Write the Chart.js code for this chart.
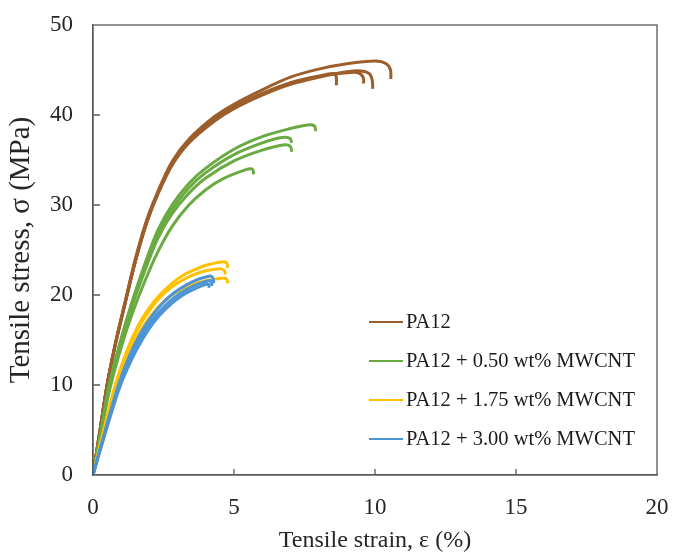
<!DOCTYPE html>
<html>
<head>
<meta charset="utf-8">
<script src="https://cdn.jsdelivr.net/npm/chart.js@4.4.1/dist/chart.umd.min.js"></script>
<style>
  html, body { margin: 0; padding: 0; background: #fff; }
  #wrap { width: 673px; height: 553px; }
</style>
</head>
<body>
<div id="wrap"><canvas id="stressStrain"></canvas></div>
<script>
"use strict";
// ========== DATA ========== //
const legendLabels = ["PA12", "PA12 + 0.50 wt% MWCNT", "PA12 + 1.75 wt% MWCNT", "PA12 + 3.00 wt% MWCNT"];
const xTicks = [0, 5, 10, 15, 20];
const yTicks = [0, 10, 20, 30, 40, 50];

// PA12 specimens
const pa12Strain1 = [0, 0.25, 0.5, 0.8, 1.15, 1.5, 1.9, 2.3, 2.8, 3.4, 4.3, 5.0, 6.0, 7.0, 8.0, 9.0, 10.0, 10.4, 10.55, 10.56];
const pa12Stress1 = [0, 5, 10, 14.7, 19.4, 24, 28.3, 31.5, 34.8, 37.3, 39.8, 41.2, 42.8, 44.2, 45.1, 45.7, 46.0, 45.7, 45.0, 44.0];
const pa12Strain2 = [0, 0.25, 0.5, 0.8, 1.15, 1.5, 1.9, 2.3, 2.8, 3.4, 4.3, 5.0, 6.0, 7.0, 8.0, 9.0, 9.5, 9.8, 9.9, 9.92];
const pa12Stress2 = [0, 5, 10, 14.6, 19.2, 23.7, 28.0, 31.2, 34.4, 36.9, 39.3, 40.7, 42.2, 43.4, 44.2, 44.8, 44.9, 44.6, 43.9, 42.9];
const pa12Strain3 = [0, 0.25, 0.5, 0.8, 1.15, 1.5, 1.9, 2.3, 2.8, 3.4, 4.3, 5.0, 6.0, 7.0, 8.0, 9.0, 9.4, 9.58, 9.6];
const pa12Stress3 = [0, 5, 10, 14.7, 19.3, 23.8, 28.1, 31.4, 34.6, 37.1, 39.5, 40.9, 42.4, 43.6, 44.3, 44.7, 44.7, 44.2, 43.5];
const pa12Strain4 = [0, 0.25, 0.5, 0.8, 1.15, 1.5, 1.9, 2.3, 2.8, 3.4, 4.3, 5.0, 6.0, 7.0, 8.0, 8.5, 8.62, 8.63];
const pa12Stress4 = [0, 5, 10, 14.6, 19.2, 23.7, 28.0, 31.3, 34.5, 37.0, 39.4, 40.8, 42.3, 43.5, 44.3, 44.6, 44.3, 43.3];

// PA12 + 0.50 wt% MWCNT specimens
const cnt050Strain1 = [0, 0.3, 0.57, 1.0, 1.4, 1.9, 2.3, 2.8, 3.4, 4.0, 5.0, 6.0, 7.0, 7.6, 7.85, 7.9];
const cnt050Stress1 = [0, 5.2, 9.9, 15.2, 19.4, 24.0, 27.2, 30.0, 32.4, 34.1, 36.2, 37.6, 38.5, 38.9, 38.8, 38.2];
const cnt050Strain2 = [0, 0.3, 0.57, 1.0, 1.4, 1.9, 2.3, 2.8, 3.4, 4.0, 5.0, 6.0, 6.7, 6.98, 7.05];
const cnt050Stress2 = [0, 5.2, 9.9, 15.0, 19.2, 23.6, 26.8, 29.5, 31.9, 33.6, 35.6, 36.9, 37.5, 37.4, 36.9];
const cnt050Strain3 = [0, 0.3, 0.57, 1.0, 1.4, 1.9, 2.3, 2.8, 3.4, 4.0, 5.0, 6.0, 6.8, 7.0, 7.05];
const cnt050Stress3 = [0, 5.1, 9.8, 14.8, 18.9, 23.2, 26.3, 29.0, 31.3, 33.0, 34.9, 36.1, 36.7, 36.5, 35.9];
const cnt050Strain4 = [0, 0.3, 0.6, 1.0, 1.4, 1.9, 2.3, 2.8, 3.4, 4.0, 4.6, 5.4, 5.65, 5.7];
const cnt050Stress4 = [0, 5, 9.6, 14.2, 18.0, 22.0, 24.8, 27.6, 30.0, 31.7, 32.9, 33.9, 34.0, 33.4];

// PA12 + 1.75 wt% MWCNT specimens
const cnt175Strain1 = [0, 0.4, 0.78, 1.2, 1.6, 2.0, 2.4, 2.8, 3.2, 3.6, 4.0, 4.4, 4.65, 4.75, 4.78];
const cnt175Stress1 = [0, 5.2, 9.9, 13.8, 16.6, 18.6, 20.1, 21.3, 22.2, 22.8, 23.3, 23.6, 23.7, 23.5, 23.0];
const cnt175Strain2 = [0, 0.4, 0.78, 1.2, 1.6, 2.0, 2.4, 2.8, 3.2, 3.6, 4.0, 4.4, 4.55, 4.66, 4.7];
const cnt175Stress2 = [0, 5.1, 9.8, 13.6, 16.3, 18.3, 19.8, 20.9, 21.7, 22.3, 22.7, 22.9, 22.9, 22.7, 22.3];
const cnt175Strain3 = [0, 0.4, 0.8, 1.25, 1.65, 2.05, 2.45, 2.85, 3.25, 3.65, 4.0, 4.4, 4.65, 4.75, 4.78];
const cnt175Stress3 = [0, 5.0, 9.6, 13.2, 15.8, 17.7, 19.1, 20.1, 20.8, 21.3, 21.6, 21.8, 21.9, 21.7, 21.3];

// PA12 + 3.00 wt% MWCNT specimens
const cnt300Strain1 = [0, 0.45, 0.89, 1.3, 1.7, 2.1, 2.5, 2.9, 3.3, 3.7, 4.0, 4.2, 4.26, 4.28];
const cnt300Stress1 = [0, 5.1, 9.9, 13.3, 15.8, 17.7, 19.2, 20.3, 21.1, 21.7, 22.0, 22.1, 21.8, 21.3];
const cnt300Strain2 = [0, 0.45, 0.9, 1.32, 1.72, 2.12, 2.52, 2.92, 3.32, 3.72, 4.0, 4.15, 4.2, 4.22];
const cnt300Stress2 = [0, 5.0, 9.7, 13.0, 15.4, 17.3, 18.7, 19.8, 20.6, 21.2, 21.5, 21.6, 21.4, 21.0];
const cnt300Strain3 = [0, 0.46, 0.92, 1.35, 1.76, 2.16, 2.56, 2.96, 3.36, 3.76, 4.02, 4.1, 4.12];
const cnt300Stress3 = [0, 4.9, 9.5, 12.7, 15.1, 17.0, 18.4, 19.5, 20.3, 20.9, 21.2, 21.2, 20.8];

// ========== STYLE ========== //
const colors = ["#9c5e2b", "#6aaa42", "#ffc000", "#4d94d6"];
const serif = "'Liberation Serif', 'Times New Roman', serif";
const axisColor = "#595959";

function toPoints(strain, stress) {
  return strain.map((x, i) => ({ x: x, y: stress[i] }));
}

function specimen(strain, stress, group) {
  return {
    label: legendLabels[group],
    data: toPoints(strain, stress),
    borderColor: colors[group],
    borderWidth: 3,
    pointRadius: 0,
    tension: 0.3,
    fill: false,
    order: 4 - group
  };
}

const datasets = [
  specimen(pa12Strain1, pa12Stress1, 0),
  specimen(pa12Strain2, pa12Stress2, 0),
  specimen(pa12Strain3, pa12Stress3, 0),
  specimen(pa12Strain4, pa12Stress4, 0),
  specimen(cnt050Strain1, cnt050Stress1, 1),
  specimen(cnt050Strain2, cnt050Stress2, 1),
  specimen(cnt050Strain3, cnt050Stress3, 1),
  specimen(cnt050Strain4, cnt050Stress4, 1),
  specimen(cnt175Strain1, cnt175Stress1, 2),
  specimen(cnt175Strain2, cnt175Stress2, 2),
  specimen(cnt175Strain3, cnt175Stress3, 2),
  specimen(cnt300Strain1, cnt300Stress1, 3),
  specimen(cnt300Strain2, cnt300Stress2, 3),
  specimen(cnt300Strain3, cnt300Stress3, 3)
];

// frame round the plot, inner tick marks and the legend box
const framePlugin = {
  id: "frame",
  afterDraw(chart) {
    const ctx = chart.ctx;
    const area = chart.chartArea;
    const xs = chart.scales.x;
    const ys = chart.scales.y;
    ctx.save();
    ctx.strokeStyle = axisColor;
    ctx.lineWidth = 1.3;
    ctx.strokeRect(area.left, area.top, area.right - area.left, area.bottom - area.top);
    ctx.beginPath();
    for (let v of xTicks.slice(1, -1)) {
      const px = xs.getPixelForValue(v);
      ctx.moveTo(px, area.bottom);
      ctx.lineTo(px, area.bottom - 6);
    }
    for (let v of yTicks.slice(1, -1)) {
      const py = ys.getPixelForValue(v);
      ctx.moveTo(area.left, py);
      ctx.lineTo(area.left + 7, py);
    }
    ctx.stroke();

    // legend
    const lx = area.left + 276;
    let ly = area.top + 297;
    ctx.font = "20.5px " + serif;
    ctx.textBaseline = "middle";
    ctx.fillStyle = "#1a1a1a";
    legendLabels.forEach((label, i) => {
      ctx.strokeStyle = colors[i];
      ctx.lineWidth = 2.2;
      ctx.beginPath();
      ctx.moveTo(lx, ly);
      ctx.lineTo(lx + 34, ly);
      ctx.stroke();
      ctx.fillText(label, lx + 37, ly + 1);
      ly += 39;
    });
    ctx.restore();
  }
};

const chart = new Chart(document.querySelector("#stressStrain"), {
  type: "line",
  data: { datasets: datasets },
  options: {
    responsive: true,
    maintainAspectRatio: false,
    animation: false,
    layout: { padding: { top: 25, right: 16, left: 0, bottom: 0 } },
    plugins: { legend: { display: false }, tooltip: { enabled: false } },
    scales: {
      x: {
        type: "linear",
        min: 0,
        max: 20,
        afterBuildTicks(scale) { scale.ticks = xTicks.map(v => ({ value: v })); },
        afterFit(scale) { scale.height = 78; scale.paddingLeft = 0; scale.paddingRight = 0; },
        grid: { display: false, drawTicks: false },
        border: { display: true, color: axisColor, width: 1.3 },
        ticks: { padding: 19, color: "#262626", font: { family: serif, size: 23 } },
        title: {
          display: true,
          text: "Tensile strain, ε (%)",
          color: "#262626",
          padding: 0,
          font: { family: serif, size: 24, lineHeight: 1 }
        }
      },
      y: {
        type: "linear",
        min: 0,
        max: 50,
        afterBuildTicks(scale) { scale.ticks = yTicks.map(v => ({ value: v })); },
        afterFit(scale) { scale.width = 93; scale.paddingTop = 0; scale.paddingBottom = 0; },
        grid: { display: false, drawTicks: false },
        border: { display: true, color: axisColor, width: 1.3 },
        ticks: { padding: 20, color: "#262626", font: { family: serif, size: 23 } },
        title: {
          display: true,
          text: "Tensile stress, σ (MPa)",
          color: "#262626",
          padding: { top: 7, bottom: 0 },
          font: { family: serif, size: 29, lineHeight: 1 }
        }
      }
    }
  },
  plugins: [framePlugin]
});
</script>
</body>
</html>
